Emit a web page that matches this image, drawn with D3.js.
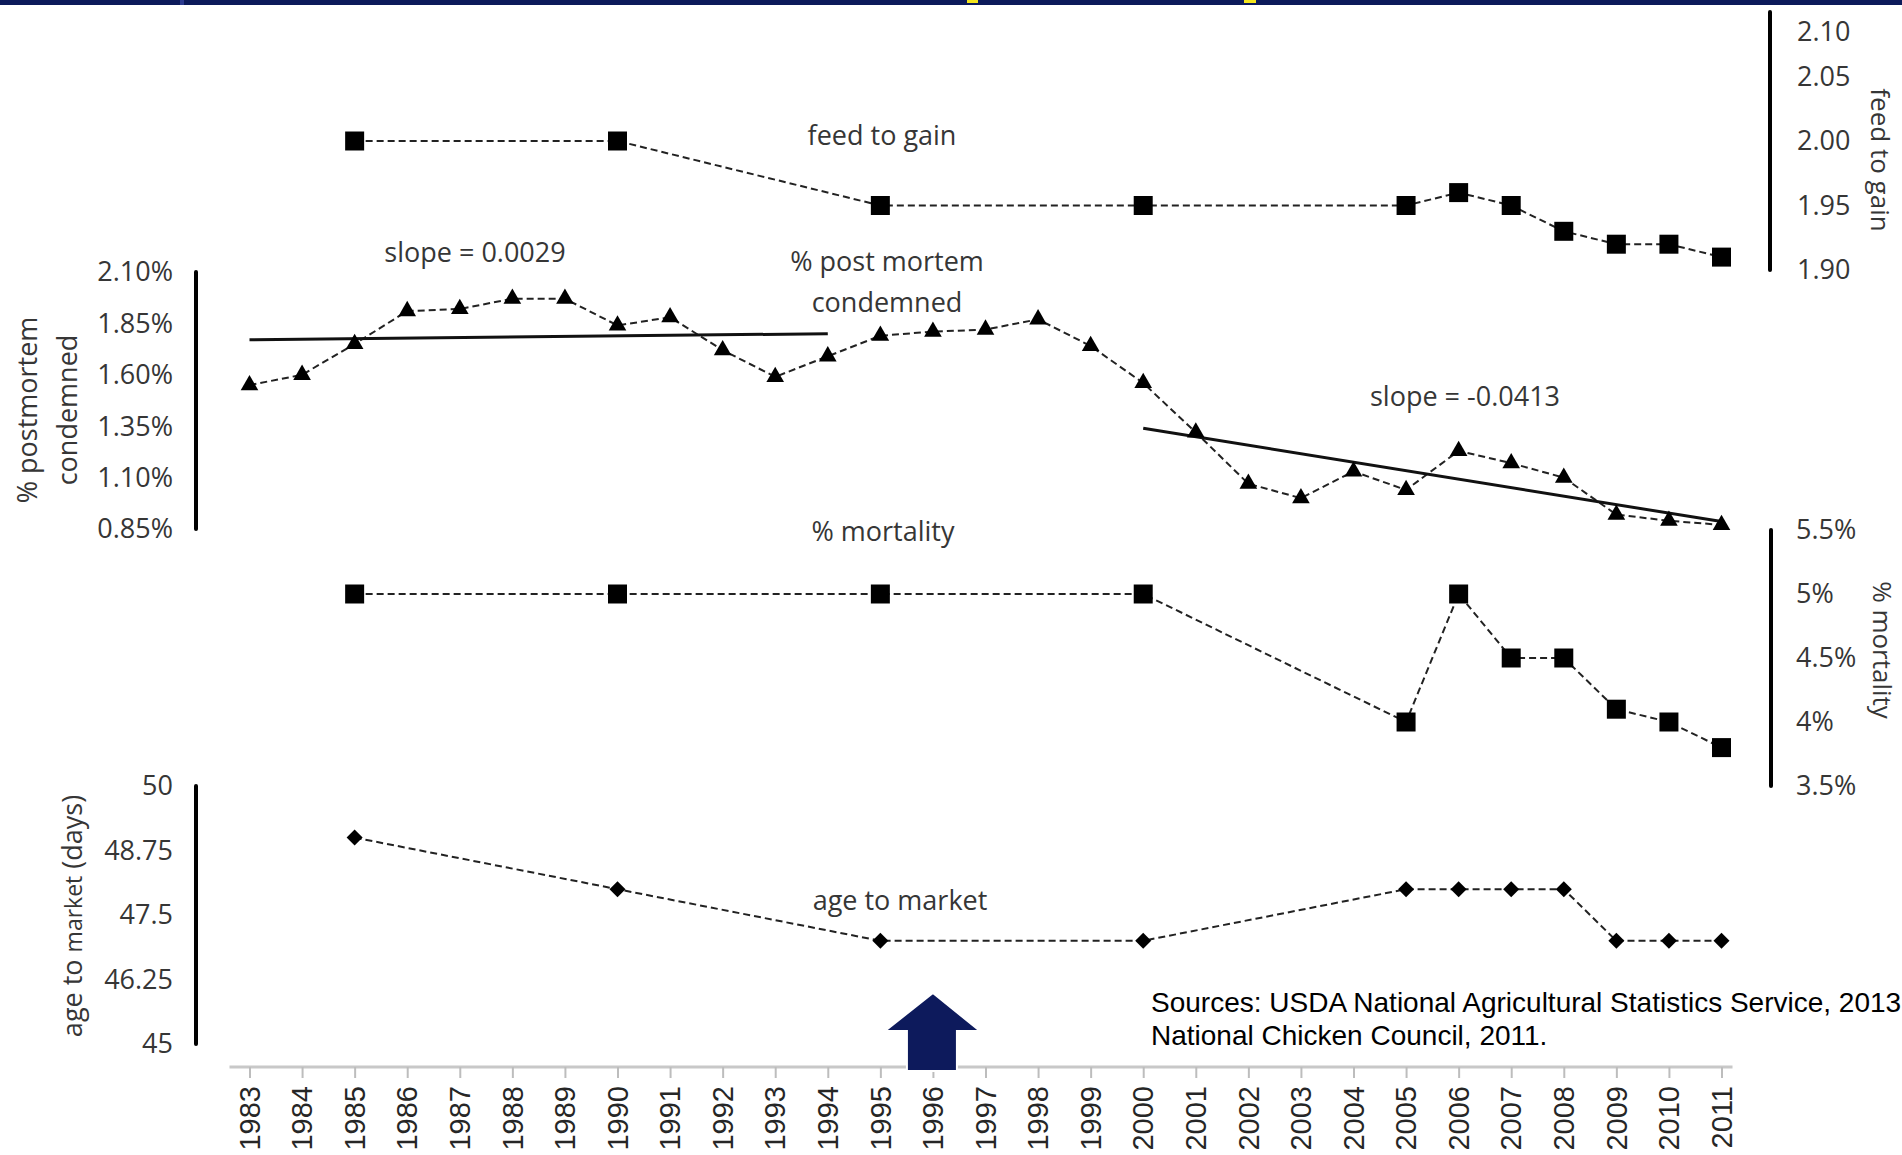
<!DOCTYPE html>
<html>
<head>
<meta charset="utf-8">
<script src="https://cdn.jsdelivr.net/npm/d3@7"></script>
<style>
  body { margin: 0; background: #fff; }
  svg { display: block; }
  .lbl { font-family: "Open Sans", sans-serif; font-size: 27px; fill: #363636; }
  .yr { font-family: "Liberation Sans", Arial, sans-serif; font-size: 29px; fill: #262626; }
</style>
</head>
<body>
<svg width="1902" height="1155"></svg>
<script>
// years on the x axis
const years = [1983, 1984, 1985, 1986, 1987, 1988, 1989, 1990, 1991, 1992, 1993, 1994, 1995, 1996,
  1997, 1998, 1999, 2000, 2001, 2002, 2003, 2004, 2005, 2006, 2007, 2008, 2009, 2010, 2011];

// % postmortem condemned, one value per year
const postmortem = [1.55, 1.60, 1.75, 1.91, 1.92, 1.97, 1.97, 1.84, 1.88, 1.72, 1.59, 1.69, 1.79, 1.81,
  1.82, 1.87, 1.74, 1.56, 1.32, 1.07, 1.00, 1.13, 1.04, 1.23, 1.17, 1.10, 0.92, 0.89, 0.87];

// series only reported for some years
const sparseYears = [1985, 1990, 1995, 2000, 2005, 2006, 2007, 2008, 2009, 2010, 2011];
const feedToGain = [2.00, 2.00, 1.95, 1.95, 1.95, 1.96, 1.95, 1.93, 1.92, 1.92, 1.91];
const mortality = [5.0, 5.0, 5.0, 5.0, 4.0, 5.0, 4.5, 4.5, 4.1, 4.0, 3.8];
const ageToMarket = [49, 48, 47, 47, 48, 48, 48, 48, 47, 47, 47];

// fitted trend lines (end points)
const trendEarly = [[1983, 1.77], [1994, 1.80]];
const trendLate = [[2000, 1.34], [2011, 0.886]];

// tick values
const feedTicks = [1.90, 1.95, 2.00, 2.05, 2.10];
const pmTicks = [0.85, 1.10, 1.35, 1.60, 1.85, 2.10];
const mortTicks = [3.5, 4, 4.5, 5, 5.5];
const ageTicks = [45, 46.25, 47.5, 48.75, 50];

const svg = d3.select('svg');

// header strip left over from the slide
svg.append('rect').attr('x', 0).attr('y', 0).attr('width', 1902).attr('height', 5).attr('fill', '#0c1a5a');
svg.append('rect').attr('x', 180).attr('y', 0).attr('width', 4).attr('height', 5).attr('fill', '#2b3a8f');
svg.append('rect').attr('x', 967).attr('y', 0).attr('width', 11).attr('height', 3).attr('fill', '#f2e41c');
svg.append('rect').attr('x', 1244).attr('y', 0).attr('width', 12).attr('height', 3).attr('fill', '#f2e41c');

const x = d3.scaleLinear().domain([1983, 2011]).range([249.5, 1721.5]);

const yFeed = d3.scaleLinear().domain([1.90, 2.10]).range([270, 12]);
const yPm = d3.scaleLinear().domain([0.85, 2.10]).range([529, 272]);
const yMort = d3.scaleLinear().domain([3.5, 5.5]).range([786, 530]);
const yAge = d3.scaleLinear().domain([45, 50]).range([1044, 786]);

// vertical axis bars
function axisBar(xPos, scale) {
  const r = scale.range();
  svg.append('line')
    .attr('x1', xPos).attr('x2', xPos)
    .attr('y1', Math.min(r[0], r[1])).attr('y2', Math.max(r[0], r[1]))
    .attr('stroke', '#000').attr('stroke-width', 4).attr('stroke-linecap', 'round');
}
axisBar(196, yPm);
axisBar(196, yAge);
axisBar(1770, yFeed);
axisBar(1771, yMort);

function tickLabels(ticks, scale, xPos, anchor, fmt, minY) {
  svg.append('g').selectAll('text')
    .data(ticks)
    .enter().append('text')
    .attr('class', 'lbl')
    .attr('x', xPos)
    .attr('y', d => Math.max(scale(d), minY || 0))
    .attr('dy', '0.35em')
    .attr('text-anchor', anchor)
    .text(fmt);
}
tickLabels(pmTicks, yPm, 173, 'end', d => d3.format('.2f')(d) + '%');
tickLabels(ageTicks, yAge, 173, 'end', d => String(d));
tickLabels(feedTicks, yFeed, 1797, 'start', d => d3.format('.2f')(d), 32);
tickLabels(mortTicks, yMort, 1796, 'start', d => d + '%');

// axis titles
svg.append('text').attr('class', 'lbl')
  .attr('transform', 'translate(37,410) rotate(-90)')
  .attr('text-anchor', 'middle').text('% postmortem');
svg.append('text').attr('class', 'lbl')
  .attr('transform', 'translate(77,410) rotate(-90)')
  .attr('text-anchor', 'middle').text('condemned');

const ageTitle = svg.append('text').attr('class', 'lbl')
  .attr('transform', 'translate(82,916) rotate(-90)')
  .attr('text-anchor', 'middle');
ageTitle.append('tspan').text('age to ');
ageTitle.append('tspan').style('font-size', '23px').text('market');
ageTitle.append('tspan').text(' (days)');

svg.append('text').attr('class', 'lbl')
  .style('font-size', '26px')
  .attr('transform', 'translate(1871,160) rotate(90)')
  .attr('text-anchor', 'middle').text('feed to gain');
svg.append('text').attr('class', 'lbl')
  .style('font-size', '26px')
  .attr('transform', 'translate(1873,650) rotate(90)')
  .attr('text-anchor', 'middle').text('% mortality');

// x axis
const xAxisY = 1067;
svg.append('line')
  .attr('x1', x.range()[0] - 20).attr('x2', x.range()[1] + 11)
  .attr('y1', xAxisY).attr('y2', xAxisY)
  .attr('stroke', '#c8c8c8').attr('stroke-width', 3);
const xAxis = svg.append('g')
  .attr('transform', `translate(0,${xAxisY})`)
  .call(d3.axisBottom(x).tickValues(years).tickSize(11).tickFormat(''));
xAxis.select('.domain').remove();
xAxis.selectAll('.tick line').attr('stroke', '#bdbdbd').attr('stroke-width', 2);

svg.append('g').selectAll('text')
  .data(years)
  .enter().append('text')
  .attr('class', 'yr')
  .attr('transform', d => `translate(${x(d)},1086) rotate(-90)`)
  .attr('dy', '0.35em')
  .attr('text-anchor', 'end')
  .text(d => d);

// series
function dashedSeries(xs, vals, scale) {
  const pts = xs.map((yr, i) => [x(yr), scale(vals[i])]);
  svg.append('path')
    .attr('d', d3.line()(pts))
    .attr('fill', 'none')
    .attr('stroke', '#222')
    .attr('stroke-width', 2)
    .attr('stroke-dasharray', '7,4');
  return pts;
}

const feedPts = dashedSeries(sparseYears, feedToGain, yFeed);
const pmPts = dashedSeries(years, postmortem, yPm);
const mortPts = dashedSeries(sparseYears, mortality, yMort);
const agePts = dashedSeries(sparseYears, ageToMarket, yAge);

// trend lines
[trendEarly, trendLate].forEach(t => {
  svg.append('path')
    .attr('d', d3.line()(t.map(p => [x(p[0]), yPm(p[1])])))
    .attr('fill', 'none')
    .attr('stroke', '#111')
    .attr('stroke-width', 3);
});

function markers(pts, type, size, rot) {
  svg.append('g').selectAll('path')
    .data(pts)
    .enter().append('path')
    .attr('d', d3.symbol().type(type).size(size))
    .attr('transform', d => `translate(${d[0]},${d[1]})` + (rot ? ` rotate(${rot})` : ''))
    .attr('fill', '#000');
}
markers(feedPts, d3.symbolSquare, 361);
markers(mortPts, d3.symbolSquare, 361);
markers(pmPts, d3.symbolTriangle, 135);
markers(agePts, d3.symbolSquare, 128, 45);

// annotations
const notes = [
  { t: 'feed to gain', x: 882, y: 136 },
  { t: 'slope = 0.0029', x: 475, y: 253 },
  { t: '% post mortem', x: 887, y: 262 },
  { t: 'condemned', x: 887, y: 303 },
  { t: 'slope = -0.0413', x: 1465, y: 397 },
  { t: '% mortality', x: 883, y: 532 },
  { t: 'age to market', x: 900, y: 901 }
];
svg.append('g').selectAll('text')
  .data(notes)
  .enter().append('text')
  .attr('class', 'lbl')
  .attr('x', d => d.x).attr('y', d => d.y)
  .attr('dy', '0.35em')
  .attr('text-anchor', 'middle')
  .text(d => d.t);

// sources
const src = svg.append('text')
  .attr('font-family', '"Liberation Sans", Arial, sans-serif')
  .attr('font-size', 28)
  .attr('fill', '#000');
src.append('tspan').attr('x', 1151).attr('y', 1012).text('Sources: USDA National Agricultural Statistics Service, 2013');
src.append('tspan').attr('x', 1151).attr('y', 1045).text('National Chicken Council, 2011.');

// highlight arrow under 1996
const ax = x(1996);
svg.append('path')
  .attr('d', d3.line()([
    [ax, 993], [ax + 47, 1031], [ax + 24, 1031], [ax + 24, 1071],
    [ax - 26, 1071], [ax - 26, 1031], [ax - 48, 1031]
  ]) + 'Z')
  .attr('fill', '#0d1a5c')
  .attr('stroke', '#fff')
  .attr('stroke-width', 2);
</script>
</body>
</html>
